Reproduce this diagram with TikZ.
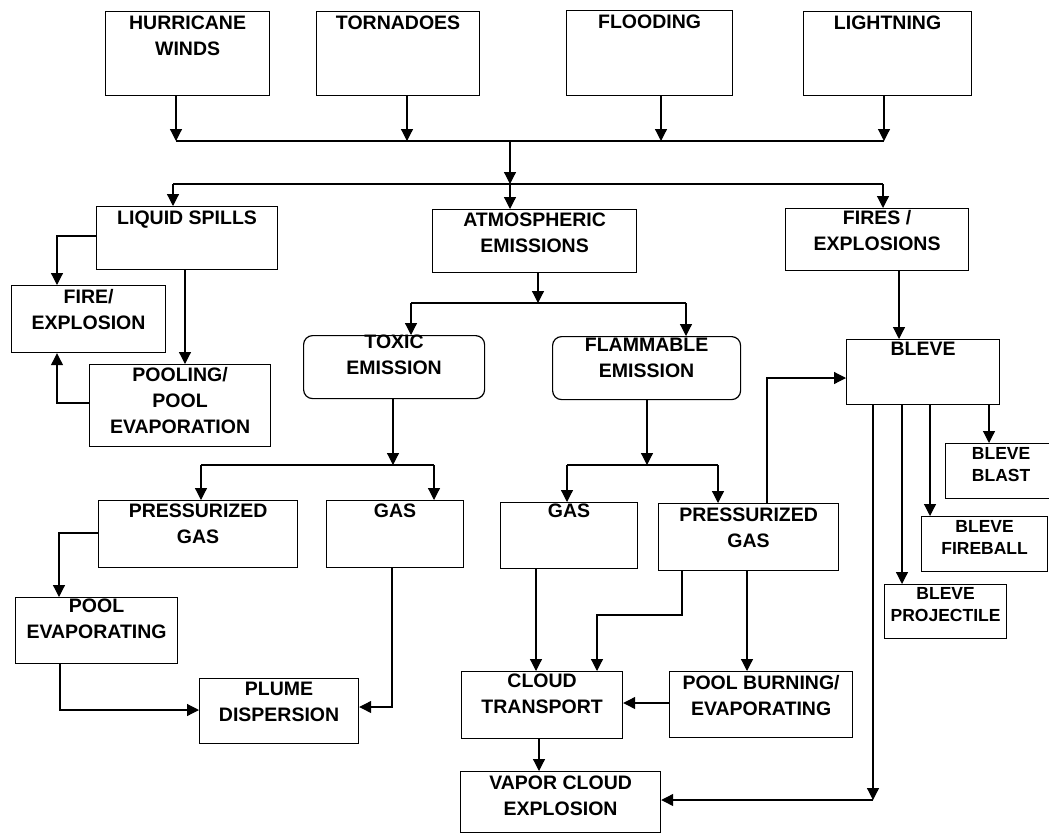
\documentclass[tikz,border=0pt]{standalone}
\usepackage{fontspec}
\setmainfont{Liberation Sans}
\usetikzlibrary{arrows.meta}

\tikzset{every picture/.style={line width=1.2pt}}
\tikzset{
  box/.style 2 args={draw, anchor=north west, inner sep=0pt, minimum width=#1pt, minimum height=#2pt},
  rbox/.style 2 args={box={#1}{#2}, rounded corners=9pt},
  lbl/.style={anchor=north, inner sep=0pt, yshift=-6pt, align=center, font=\bfseries\fontsize{19.5}{26}\selectfont},
  slbl/.style={lbl, yshift=0.5pt, font=\bfseries\fontsize{17.5}{22}\selectfont},
  arr/.style={-{Triangle[length=12pt,width=12pt]}},
}

\begin{document}
\begin{tikzpicture}[x=1pt,y=1pt,yscale=-1,xscale=1]
\useasboundingbox (0,0) rectangle (1049,833);
\fill[white] (0,0) rectangle (1049,833);

%Shape: Rectangle (hazards)
\node[box={164}{84}] (hurricane) at (105,11) {};
\node[box={163}{84}] (tornadoes) at (316,11) {};
\node[box={166}{85}] (flooding) at (566,10) {};
\node[box={168}{84}] (lightning) at (803,11) {};
%Shape: Rectangle (releases)
\node[box={181}{63}] (liquid) at (96,206) {};
\node[box={204}{63}] (atmos) at (432,209) {};
\node[box={183}{62}] (fires) at (785,208) {};
\node[box={154}{67}] (fire) at (11,285) {};
\node[box={181}{82}] (pooling) at (89,364) {};
\node[rbox={181}{63}] (toxic) at (303,335) {};
\node[rbox={188}{63}] (flam) at (552,336) {};
\node[box={153}{65}] (bleve) at (846,339) {};
\node[box={111}{55}] (blast) at (945,443) {};
\node[box={126}{55}] (fireball) at (921,516) {};
\node[box={122}{54}] (projectile) at (884,584) {};
\node[box={199}{67}] (pressT) at (98,500) {};
\node[box={137}{67}] (gasT) at (326,500) {};
\node[box={162}{66}] (poolevap) at (15,597) {};
\node[box={159}{65}] (plume) at (199,678) {};
\node[box={137}{66}] (gasF) at (500,502) {};
\node[box={180}{67}] (pressF) at (658,503) {};
\node[box={161}{67}] (cloud) at (461,671) {};
\node[box={183}{66}] (poolburn) at (669,671) {};
\node[box={200}{61}] (vapor) at (460,771) {};

% Text Node
\node[lbl] (hurricaneT) at ([yshift=-2pt]hurricane.north) {HURRICANE\\WINDS};
\node[lbl] (tornadoesT) at ([yshift=-2pt]tornadoes.north) {TORNADOES};
\node[lbl] (floodingT) at ([yshift=-2pt]flooding.north) {FLOODING};
\node[lbl] (lightningT) at ([yshift=-2pt]lightning.north) {LIGHTNING};
\node[lbl] (liquidT) at ([yshift=-2pt]liquid.north) {LIQUID SPILLS};
\node[lbl] (atmosT) at ([yshift=-3pt]atmos.north) {ATMOSPHERIC\\EMISSIONS};
\node[lbl] (firesT) at ([yshift=-4pt]fires.north) {FIRES /\\EXPLOSIONS};
\node[lbl] (fireT) at ([yshift=-2pt]fire.north) {FIRE/\\EXPLOSION};
\node[lbl] (poolingT) at ([yshift=-3pt]pooling.north) {POOLING/\\POOL\\EVAPORATION};
\node[lbl] (toxicT) at ([yshift=-7pt]toxic.north) {TOXIC\\EMISSION};
\node[lbl] (flamT) at ([yshift=-5pt]flam.north) {FLAMMABLE\\EMISSION};
\node[lbl] (bleveT) at ([yshift=-4pt]bleve.north) {BLEVE};
\node[slbl] (blastT) at ([yshift=-2pt]blast.north) {BLEVE\\BLAST};
\node[slbl] (fireballT) at ([yshift=-2pt]fireball.north) {BLEVE\\FIREBALL};
\node[slbl] (projectileT) at ([yshift=-3pt]projectile.north) {BLEVE\\PROJECTILE};
\node[lbl] (pressTT) at ([yshift=-3pt]pressT.north) {PRESSURIZED\\GAS};
\node[lbl] (gasTT) at ([yshift=-3pt]gasT.north) {GAS};
\node[lbl] (poolevapT) at ([yshift=-5pt]poolevap.north) {POOL\\EVAPORATING};
\node[lbl] (plumeT) at ([yshift=-3pt]plume.north) {PLUME\\DISPERSION};
\node[lbl] (gasFT) at ([yshift=-5pt]gasF.north) {GAS};
\node[lbl] (pressFT) at ([yshift=-2pt]pressF.north) {PRESSURIZED\\GAS};
\node[lbl] (cloudT) at ([yshift=-4pt]cloud.north) {CLOUD\\TRANSPORT};
\node[lbl] (poolburnT) at ([yshift=-2pt]poolburn.north) {POOL BURNING/\\EVAPORATING};
\node[lbl] (vaporT) at ([yshift=-2pt]vapor.north) {VAPOR CLOUD\\EXPLOSION};

%Straight Lines (hazards to bus)
\coordinate (j1) at (176,141);
\coordinate (j2) at (407,141);
\coordinate (j3) at (661,141);
\coordinate (j4) at (884,141);
\draw[arr] (j1 |- hurricane.south) -- (j1);
\draw[arr] (j2 |- tornadoes.south) -- (j2);
\draw[arr] (j3 |- flooding.south) -- (j3);
\draw[arr] (j4 |- lightning.south) -- (j4);
\draw (j1) -- (j4);
\coordinate (j5) at (510,141);
\coordinate (j6) at (510,184);
\draw[arr] (j5) -- (j6);
\coordinate (k1) at (173,184);
\coordinate (k3) at (883,184);
\draw (k1) -- (k3);
\draw[arr] (k1) -- (k1 |- liquid.north);
\draw[arr] (j6) -- (j6 |- atmos.north);
\draw[arr] (k3) -- (k3 |- fires.north);

%Straight Lines (liquid spills)
\coordinate (l1) at (57,236);
\coordinate (l2) at (185,0);
\coordinate (l3) at (57,403);
\draw[arr] (l1 -| liquid.west) -- (l1) -- (l1 |- fire.north);
\draw[arr] (l2 |- liquid.south) -- (l2 |- pooling.north);
\draw[arr] (l3 -| pooling.west) -- (l3) -- (l3 |- fire.south);

%Straight Lines (atmospheric emissions)
\coordinate (m1) at (538,303);
\coordinate (m2) at (411,303);
\coordinate (m3) at (686,303);
\draw[arr] (m1 |- atmos.south) -- (m1);
\draw (m2) -- (m3);
\draw[arr] (m2) -- (m2 |- toxic.north);
\draw[arr] (m3) -- (m3 |- flam.north);

%Straight Lines (toxic branch)
\coordinate (n1) at (393,465);
\coordinate (n2) at (201,465);
\coordinate (n3) at (434,465);
\draw[arr] (n1 |- toxic.south) -- (n1);
\draw (n2) -- (n3);
\draw[arr] (n2) -- (n2 |- pressT.north);
\draw[arr] (n3) -- (n3 |- gasT.north);
\coordinate (p1) at (59,533);
\coordinate (p2) at (60,710);
\coordinate (p3) at (392,707);
\draw[arr] (p1 -| pressT.west) -- (p1) -- (p1 |- poolevap.north);
\draw[arr] (p2 |- poolevap.south) -- (p2) -- (p2 -| plume.west);
\draw[arr] (p3 |- gasT.south) -- (p3) -- (p3 -| plume.east);

%Straight Lines (flammable branch)
\coordinate (q1) at (647,465);
\coordinate (q2) at (567,465);
\coordinate (q3) at (718,465);
\draw[arr] (q1 |- flam.south) -- (q1);
\draw (q2) -- (q3);
\draw[arr] (q2) -- (q2 |- gasF.north);
\draw[arr] (q3) -- (q3 |- pressF.north);
\coordinate (r1) at (767,378);
\coordinate (r2) at (899,0);
\draw[arr] (r1 |- pressF.north) -- (r1) -- (r1 -| bleve.west);
\draw[arr] (r2 |- fires.south) -- (r2 |- bleve.north);
\coordinate (s1) at (536,0);
\coordinate (s2) at (682,615);
\coordinate (s3) at (597,615);
\coordinate (s4) at (747,0);
\coordinate (s5) at (0,703);
\coordinate (s6) at (539,0);
\draw[arr] (s1 |- gasF.south) -- (s1 |- cloud.north);
\draw[arr] (s2 |- pressF.south) -- (s2) -- (s3) -- (s3 |- cloud.north);
\draw[arr] (s4 |- pressF.south) -- (s4 |- poolburn.north);
\draw[arr] (s5 -| poolburn.west) -- (s5 -| cloud.east);
\draw[arr] (s6 |- cloud.south) -- (s6 |- vapor.north);

%Straight Lines (bleve)
\coordinate (t1) at (873,800);
\coordinate (t2) at (902,0);
\coordinate (t3) at (930,0);
\coordinate (t4) at (989,0);
\draw[arr] (t1 |- bleve.south) -- (t1);
\draw[arr] (t1) -- (t1 -| vapor.east);
\draw[arr] (t2 |- bleve.south) -- (t2 |- projectile.north);
\draw[arr] (t3 |- bleve.south) -- (t3 |- fireball.north);
\draw[arr] (t4 |- bleve.south) -- (t4 |- blast.north);

\end{tikzpicture}
\end{document}
